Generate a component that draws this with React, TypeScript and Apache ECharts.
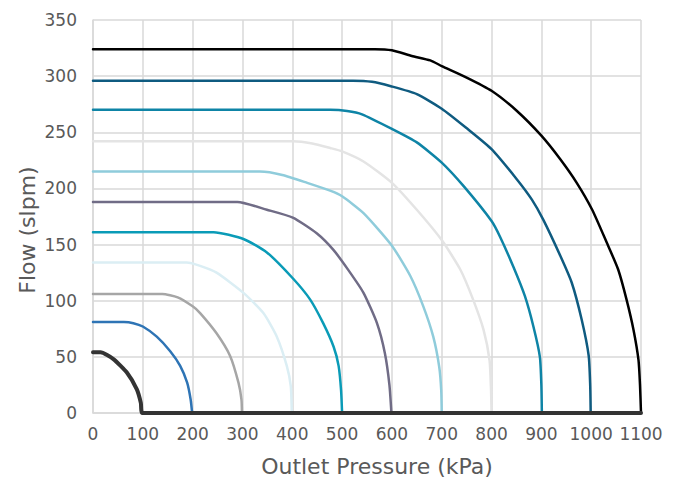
import React, { useEffect, useRef } from "react";
import * as echarts from "echarts";

const xTicks = [0, 100, 200, 300, 400, 500, 600, 700, 800, 900, 1000, 1100];
const yTicks = [0, 50, 100, 150, 200, 250, 300, 350];

// [outlet pressure kPa, flow slpm]
const curve1 = [[0, 54], [15, 54], [41, 48], [68, 36], [88, 21], [96, 9], [99, 0], [1100, 0]];
const curve2 = [[0, 81], [62, 81], [81, 80], [100, 77], [128, 68], [155, 55], [175, 42], [189, 27], [196, 12], [199, 0]];
const curve3 = [[0, 106], [139, 106], [170, 103], [200, 95], [215, 89], [248, 71], [275, 51], [292, 27], [298, 12], [299, 0]];
const curve4 = [[0, 134], [188, 134], [215, 131], [248, 125], [302, 107], [342, 89], [369, 68], [389, 42], [397, 24], [399, 0]];
const curve5 = [[0, 161], [242, 161], [302, 155], [349, 143], [401, 120], [436, 101], [462, 80], [483, 59], [493, 42], [498, 20], [500, 0]];
const curve6 = [[0, 188], [290, 188], [349, 181], [401, 174], [449, 160], [483, 145], [513, 127], [543, 107], [570, 80], [586, 53], [595, 25], [599, 0]];
const curve7 = [[0, 215], [335, 215], [380, 212], [430, 205], [476, 198], [500, 193], [543, 178], [600, 149], [637, 122], [663, 95], [683, 68], [695, 41], [699, 20], [700, 0]];
const curve8 = [[0, 242], [402, 242], [440, 240], [476, 236], [500, 233], [543, 224], [600, 205], [650, 181], [700, 154], [737, 128], [763, 101], [784, 74], [796, 47], [799, 20], [800, 0]];
const curve9 = [[0, 270], [476, 270], [510, 269], [540, 266], [600, 253], [650, 241], [700, 223], [744, 202], [800, 171], [817, 157], [844, 130], [867, 104], [884, 77], [897, 50], [900, 25], [901, 0]];
const curve10 = [[0, 296], [522, 296], [560, 295], [598, 291], [650, 284], [700, 271], [749, 254], [800, 235], [851, 208], [881, 190], [904, 172], [938, 140], [961, 116], [981, 83], [995, 51], [998, 25], [999, 0]];
const curve11 = [[0, 324], [566, 324], [600, 323], [640, 318], [677, 314], [700, 309], [749, 299], [800, 287], [851, 269], [900, 247], [938, 226], [971, 205], [1002, 181], [1031, 152], [1054, 128], [1071, 101], [1085, 74], [1095, 47], [1098, 25], [1100, 0]];

const curves = [curve11, curve10, curve9, curve8, curve7, curve6, curve5, curve4, curve3, curve2, curve1];
const colors = ["#000000", "#0f5b80", "#0e84a6", "#e4e4e4", "#8fccdb", "#706c86", "#0a9bb7", "#dbeef4", "#a6a6a6", "#2e74b5", "#333333"];
const widths = [2.5, 2.5, 2.5, 2.5, 2.5, 2.5, 2.5, 2.5, 2.5, 2.5, 4];

export default function App() {
  const ref = useRef<HTMLDivElement>(null);
  useEffect(() => {
    const chart = echarts.init(ref.current!, null, { renderer: "svg" });
    const font = "DejaVu Sans";
    chart.setOption({
      animation: false,
      backgroundColor: "#ffffff",
      grid: { left: 93, right: 36, top: 20, bottom: 68, containLabel: false },
      xAxis: {
        type: "value",
        min: 0,
        max: 1100,
        interval: 100,
        axisLine: { show: true, lineStyle: { color: "#d9d9d9", width: 1.5 } },
        axisTick: { show: false },
        splitLine: { show: true, lineStyle: { color: "#d9d9d9", width: 1.5 } },
        axisLabel: { color: "#595959", fontSize: 17, fontFamily: font, margin: 12, formatter: (v: number) => (xTicks.includes(v) ? String(v) : "") },
      },
      yAxis: {
        type: "value",
        min: 0,
        max: 350,
        interval: 50,
        axisLine: { show: true, lineStyle: { color: "#d9d9d9", width: 1.5 } },
        axisTick: { show: false },
        splitLine: { show: true, lineStyle: { color: "#d9d9d9", width: 1.5 } },
        axisLabel: { color: "#595959", fontSize: 17, fontFamily: font, margin: 16, formatter: (v: number) => (yTicks.includes(v) ? String(v) : "") },
      },
      graphic: [
        {
          type: "text",
          x: 377,
          y: 466,
          style: { text: "Outlet Pressure (kPa)", fill: "#595959", font: `22px "${font}"`, align: "center", verticalAlign: "middle" },
        },
        {
          type: "text",
          x: 27,
          y: 230,
          rotation: Math.PI / 2,
          style: { text: "Flow (slpm)", fill: "#595959", font: `22px "${font}"`, align: "center", verticalAlign: "middle" },
        },
      ],
      series: curves.map((c, i) => ({
        type: "line",
        data: c,
        showSymbol: false,
        symbol: "none",
        smooth: 0.2,
        lineStyle: { color: colors[i], width: widths[i], join: "round", cap: "round" },
        z: 2 + i,
      })),
    });
    return () => chart.dispose();
  }, []);
  return <div ref={ref} style={{ position: "fixed", left: 0, top: 0, width: 677, height: 481 }} />;
}
